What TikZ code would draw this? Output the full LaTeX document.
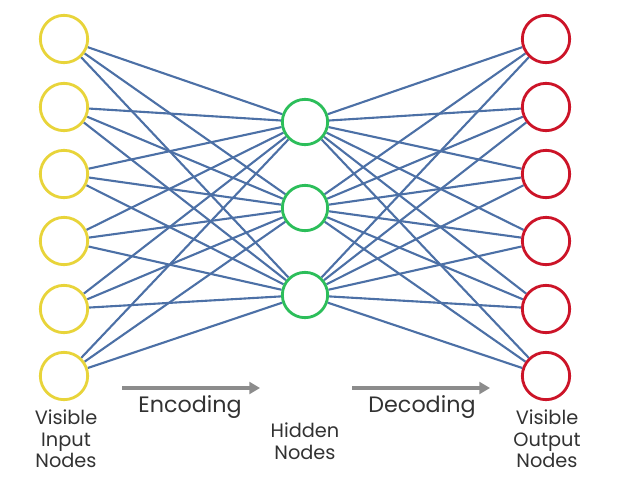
\documentclass[tikz,border=0pt]{standalone}
\usepackage{fontspec}
\setmainfont{Poppins}
\usepackage{tikz}
\usetikzlibrary{arrows.meta,positioning,backgrounds}
\definecolor{inyellow}{RGB}{232,212,58}
\definecolor{hidgreen}{RGB}{44,190,90}
\definecolor{outred}{RGB}{204,20,40}
\definecolor{edgeblue}{RGB}{76,112,166}
\definecolor{labelgray}{RGB}{50,50,50}
\definecolor{arrowgray}{RGB}{140,140,140}

\begin{document}
\begin{tikzpicture}[
    unit/.style={draw, circle, line width=2.4pt, fill=white, minimum size=1.42cm, inner sep=0pt},
    link/.style={edgeblue, line width=1.8pt},
    flow/.style={arrowgray, line width=3pt, -{Triangle[length=9pt,width=10pt]}},
    caption/.style={font=\fontsize{16.5}{18.4}\selectfont, text=labelgray, align=center},
]
    \useasboundingbox (0,0) rectangle (18.57,-14.46);

    % Visible input and output units
    \foreach \i/\y in {1/-1.17, 2/-3.21, 3/-5.22, 4/-7.23, 5/-9.27, 6/-11.28} {
        \node[unit, draw=inyellow] (in\i) at (1.92,\y) {};
        \node[unit, draw=outred] (out\i) at (16.38,\y) {};
    }

    % Hidden units
    \foreach \j/\y in {1/-3.66, 2/-6.24, 3/-8.85} {
        \node[unit, draw=hidgreen, minimum size=1.36cm] (hid\j) at (9.15,\y) {};
    }

    % Connections, behind the units
    \begin{scope}[on background layer]
    \foreach \i in {1,...,6} {
        \foreach \j in {1,2,3} {
            \draw[link] (in\i) -- (hid\j);
            \draw[link] (hid\j) -- (out\i);
        }
    }
    \end{scope}

    % Encoding / decoding arrows
    \coordinate (encfrom) at (3.66,-11.64);
    \coordinate (encto) at (7.8,-11.64);
    \coordinate (decfrom) at (10.56,-11.64);
    \coordinate (decto) at (14.7,-11.64);
    \draw[flow] (encfrom) -- (encto);
    \draw[flow] (decfrom) -- (decto);

    % Labels
    \node[caption, font=\fontsize{19}{22}\selectfont] (enc) at (5.7,-12.21) {Encoding};
    \node[caption, font=\fontsize{19}{22}\selectfont] (dec) at (12.66,-12.21) {Decoding};
    \node[caption] (inlbl) at (1.98,-13.17) {Visible\\Input\\Nodes};
    \node[caption] (hidlbl) at (9.15,-13.23) {Hidden\\Nodes};
    \node[caption] (outlbl) at (16.41,-13.17) {Visible\\Output\\Nodes};
\end{tikzpicture}
\end{document}
